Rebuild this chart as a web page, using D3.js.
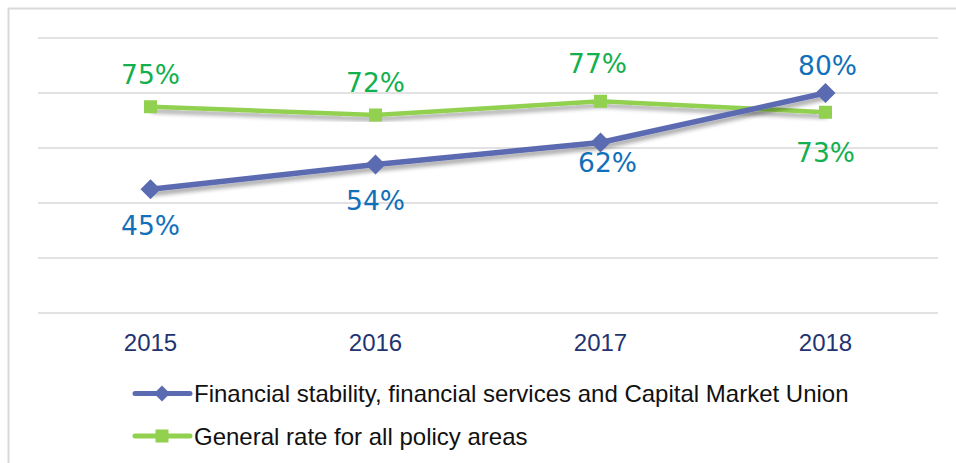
<!DOCTYPE html>
<html>
<head>
<meta charset="utf-8">
<script src="https://cdn.jsdelivr.net/npm/d3@7"></script>
<style>
  html, body { margin: 0; padding: 0; background: #fff; }
  svg { display: block; }
</style>
</head>
<body>
<svg id="chart" width="956" height="463"></svg>
<script>
// Years on the horizontal axis
const years = ["2015", "2016", "2017", "2018"];
// Share of adopted initiatives, in percent
const financialStability = [45, 54, 62, 80];
const generalRate = [75, 72, 77, 73];
// Horizontal gridline values
const gridValues = [0, 20, 40, 60, 80, 100];

const seriesNames = [
  "Financial stability, financial services and Capital Market Union",
  "General rate for all policy areas"
];

const svg = d3.select("#chart");

const plot = { left: 38, right: 938, top: 38, bottom: 313 };

const x = d3.scaleBand().domain(years).range([plot.left, plot.right]);
const y = d3.scaleLinear().domain([0, 100]).range([plot.bottom, plot.top]);
const cx = d => x(d) + x.bandwidth() / 2;

// Drop shadow behind the lines
const defs = svg.append("defs");
const f = defs.append("filter").attr("id", "shadow")
  .attr("x", "-10%").attr("y", "-50%").attr("width", "120%").attr("height", "200%");
f.append("feGaussianBlur").attr("in", "SourceAlpha").attr("stdDeviation", 2.2).attr("result", "b");
f.append("feOffset").attr("in", "b").attr("dx", 1).attr("dy", 4).attr("result", "o");
f.append("feComponentTransfer").attr("in", "o").attr("result", "s")
  .append("feFuncA").attr("type", "linear").attr("slope", 0.35);
const m = f.append("feMerge");
m.append("feMergeNode").attr("in", "s");
m.append("feMergeNode").attr("in", "SourceGraphic");

// Outer frame (top and left edges)
svg.append("path")
  .attr("d", "M8.5,463 V8.5 H956")
  .attr("fill", "none").attr("stroke", "#d9d9d9").attr("stroke-width", 2);

// Gridlines
svg.append("g").selectAll("line").data(gridValues).join("line")
  .attr("x1", plot.left).attr("x2", plot.right)
  .attr("y1", d => y(d)).attr("y2", d => y(d))
  .attr("stroke", "#d9d9d9").attr("stroke-width", 1.6);

// X axis labels
const xAxis = d3.axisBottom(x).tickSize(0).tickPadding(0);
const gx = svg.append("g").attr("transform", `translate(0,${plot.bottom})`).call(xAxis);
gx.select(".domain").remove();
gx.selectAll("text")
  .attr("y", 38).attr("dy", 0)
  .attr("font-family", "'Liberation Sans', Arial, sans-serif")
  .attr("font-size", 24).attr("fill", "#1f3470");

const blue = "#5b6bb1";
const green = "#92d050";

const line = d3.line().x((d, i) => cx(years[i])).y(d => y(d));

// Series lines
svg.append("path").datum(generalRate)
  .attr("d", line).attr("fill", "none").attr("stroke", green)
  .attr("stroke-width", 4.5).attr("filter", "url(#shadow)");
svg.append("path").datum(financialStability)
  .attr("d", line).attr("fill", "none").attr("stroke", blue)
  .attr("stroke-width", 5.5).attr("stroke-linejoin", "round").attr("filter", "url(#shadow)");

// Markers
const diamond = s => `M0,${-s} L${s},0 L0,${s} L${-s},0 Z`;
svg.append("g").selectAll("path").data(financialStability).join("path")
  .attr("transform", (d, i) => `translate(${cx(years[i])},${y(d)})`)
  .attr("d", diamond(10)).attr("fill", blue);
svg.append("g").selectAll("rect").data(generalRate).join("rect")
  .attr("x", (d, i) => cx(years[i]) - 6.5).attr("y", d => y(d) - 6.5)
  .attr("width", 13).attr("height", 13).attr("fill", green);

// Value labels, each nudged off its point (dx, baseline dy)
const labelFont = "'DejaVu Sans', Verdana, sans-serif";
function labels(values, nudges, color) {
  svg.append("g").selectAll("text").data(values).join("text")
    .attr("x", (d, i) => cx(years[i]) + nudges[i][0])
    .attr("y", (d, i) => y(d) + nudges[i][1])
    .attr("text-anchor", "middle")
    .attr("font-family", labelFont).attr("font-size", 26.5)
    .attr("fill", color)
    .text(d => d + "%");
}
labels(financialStability, [[0, 46], [0, 45.5], [7, 29.5], [2, -18]], "#1170b9");
labels(generalRate, [[0, -22.5], [0, -23], [-3, -28], [0, 49.5]], "#13b04f");

// Legend
const legend = svg.append("g");
const legendRows = [
  { name: seriesNames[0], color: blue, marker: "diamond", y: 393.5 },
  { name: seriesNames[1], color: green, marker: "square", y: 436 }
];
legendRows.forEach(r => {
  legend.append("line").attr("x1", 135).attr("x2", 190).attr("y1", r.y).attr("y2", r.y)
    .attr("stroke", r.color).attr("stroke-width", 5).attr("stroke-linecap", "round");
  if (r.marker === "diamond") {
    legend.append("path").attr("transform", `translate(162,${r.y})`).attr("d", diamond(8)).attr("fill", r.color);
  } else {
    legend.append("rect").attr("x", 162 - 6.5).attr("y", r.y - 6.5).attr("width", 13).attr("height", 13).attr("fill", r.color);
  }
  legend.append("text").attr("x", 194).attr("y", r.y + 8.5)
    .attr("font-family", "'Liberation Sans', Arial, sans-serif")
    .attr("font-size", 24).attr("fill", "#111")
    .text(r.name);
});
</script>
</body>
</html>
